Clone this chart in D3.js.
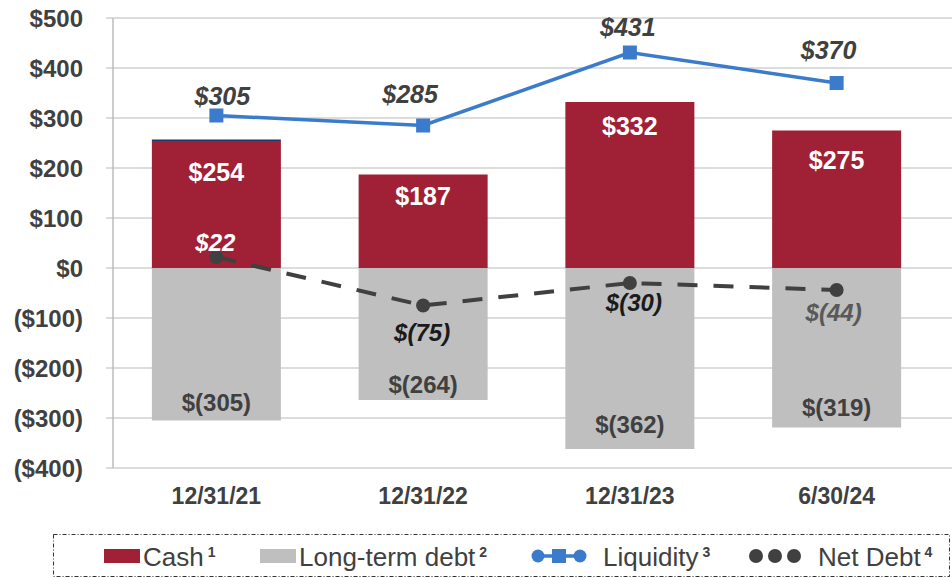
<!DOCTYPE html>
<html>
<head>
<meta charset="utf-8">
<script src="https://cdn.jsdelivr.net/npm/d3@7"></script>
<style>
  body { margin: 0; background: #fff; }
  svg { font-family: "Liberation Sans", Arial, sans-serif; }
</style>
</head>
<body>
<svg id="chart" width="952" height="578"></svg>
<script>
const categories = ['12/31/21', '12/31/22', '12/31/23', '6/30/24'];
const cash = [254, 187, 332, 275];
const other = [3, 0, 0, 0];
const debt = [-305, -264, -362, -319];
const liquidity = [305, 285, 431, 370];
const netDebt = [22, -75, -30, -44];
const netDebtLabels = ['$22', '$(75)', '$(30)', '$(44)'];
const yTicks = [500, 400, 300, 200, 100, 0, -100, -200, -300, -400];

const red = '#a02035';
const grey = '#bfbfbf';
const blue = '#3b7bcc';
const dark = '#404040';

const svg = d3.select('#chart');
const x = d3.scaleBand().domain(categories).range([113, 940]).paddingInner(0.376).paddingOuter(0.188);
const y = d3.scaleLinear().domain([-400, 500]).range([468, 18]);
const cx = d => x(d) + x.bandwidth() / 2;
const money = v => (v < 0 ? `($${-v})` : `$${v}`);

// grid
svg.append('g')
  .selectAll('line')
  .data(yTicks)
  .enter()
  .append('line')
  .attr('x1', 106)
  .attr('x2', 952)
  .attr('y1', d => y(d))
  .attr('y2', d => y(d))
  .attr('stroke', '#d0d0d0')
  .attr('stroke-width', 1.5);

svg.append('line')
  .attr('x1', 113).attr('x2', 113)
  .attr('y1', y(500)).attr('y2', y(-400))
  .attr('stroke', '#bdbdbd').attr('stroke-width', 1.5);

svg.append('g')
  .selectAll('text')
  .data(yTicks)
  .enter()
  .append('text')
  .attr('x', 83)
  .attr('y', d => y(d))
  .attr('dy', '0.36em')
  .attr('text-anchor', 'end')
  .attr('font-size', 24)
  .attr('font-weight', 'bold')
  .attr('fill', dark)
  .text(money);

// bars
const bars = svg.append('g');
bars.selectAll('.cash')
  .data(categories)
  .enter()
  .append('rect')
  .attr('x', d => x(d))
  .attr('width', x.bandwidth())
  .attr('y', (d, i) => y(cash[i]))
  .attr('height', (d, i) => y(0) - y(cash[i]))
  .attr('fill', red);
bars.selectAll('.other')
  .data(categories)
  .enter()
  .append('rect')
  .attr('x', d => x(d))
  .attr('width', x.bandwidth())
  .attr('y', (d, i) => y(cash[i] + other[i]))
  .attr('height', (d, i) => y(cash[i]) - y(cash[i] + other[i]))
  .attr('fill', '#1f3864');
bars.selectAll('.debt')
  .data(categories)
  .enter()
  .append('rect')
  .attr('x', d => x(d))
  .attr('width', x.bandwidth())
  .attr('y', y(0))
  .attr('height', (d, i) => y(debt[i]) - y(0))
  .attr('fill', grey);

const cashOffsets = [31, 21, 24, 29];
bars.selectAll('.cashLbl')
  .data(categories)
  .enter()
  .append('text')
  .attr('x', cx)
  .attr('y', (d, i) => y(cash[i]) + cashOffsets[i])
  .attr('dy', '0.36em')
  .attr('text-anchor', 'middle')
  .attr('font-size', 25)
  .attr('font-weight', 'bold')
  .attr('fill', '#fff')
  .text((d, i) => `$${cash[i]}`);

const debtOffsets = [-18, -16, -25, -20];
bars.selectAll('.debtLbl')
  .data(categories)
  .enter()
  .append('text')
  .attr('x', cx)
  .attr('y', (d, i) => y(debt[i]) + debtOffsets[i])
  .attr('dy', '0.36em')
  .attr('text-anchor', 'middle')
  .attr('font-size', 24)
  .attr('font-weight', 'bold')
  .attr('fill', dark)
  .text((d, i) => `$(${-debt[i]})`);

// net debt line
const netLine = d3.line().x(d => cx(d.c)).y(d => y(d.v));
const netPts = categories.map((c, i) => ({ c, v: netDebt[i] }));
svg.append('path')
  .attr('d', netLine(netPts))
  .attr('fill', 'none')
  .attr('stroke', dark)
  .attr('stroke-width', 4)
  .attr('stroke-dasharray', '20,16');
svg.append('g')
  .selectAll('circle')
  .data(netPts)
  .enter()
  .append('circle')
  .attr('cx', d => cx(d.c))
  .attr('cy', d => y(d.v))
  .attr('r', 7)
  .attr('fill', dark);

const netColors = ['#fff', '#1a1a1a', '#1a1a1a', '#595959'];
const netOffsets = [-15, 27, 19, 22];
const netDx = [-1, -1, 4, -3];
svg.append('g')
  .selectAll('text')
  .data(netPts)
  .enter()
  .append('text')
  .attr('x', (d, i) => cx(d.c) + netDx[i])
  .attr('y', (d, i) => y(d.v) + netOffsets[i])
  .attr('dy', '0.36em')
  .attr('text-anchor', 'middle')
  .attr('font-size', 24)
  .attr('font-weight', 'bold')
  .attr('font-style', 'italic')
  .attr('fill', (d, i) => netColors[i])
  .text((d, i) => netDebtLabels[i]);

// liquidity line
const liqPts = categories.map((c, i) => ({ c, v: liquidity[i] }));
svg.append('path')
  .attr('d', netLine(liqPts))
  .attr('fill', 'none')
  .attr('stroke', blue)
  .attr('stroke-width', 3.5);
svg.append('g')
  .selectAll('rect')
  .data(liqPts)
  .enter()
  .append('rect')
  .attr('x', d => cx(d.c) - 7)
  .attr('y', d => y(d.v) - 7)
  .attr('width', 14)
  .attr('height', 14)
  .attr('fill', blue);

const liqOffsets = [-20, -32, -26, -33];
const liqDx = [6, -13, -2, -8];
svg.append('g')
  .selectAll('text')
  .data(liqPts)
  .enter()
  .append('text')
  .attr('x', (d, i) => cx(d.c) + liqDx[i])
  .attr('y', (d, i) => y(d.v) + liqOffsets[i])
  .attr('dy', '0.36em')
  .attr('text-anchor', 'middle')
  .attr('font-size', 25)
  .attr('font-weight', 'bold')
  .attr('font-style', 'italic')
  .attr('fill', dark)
  .text(d => `$${d.v}`);

// x labels
svg.append('g')
  .selectAll('text')
  .data(categories)
  .enter()
  .append('text')
  .attr('x', cx)
  .attr('y', 496)
  .attr('dy', '0.36em')
  .attr('text-anchor', 'middle')
  .attr('font-size', 23)
  .attr('font-weight', 'bold')
  .attr('fill', dark)
  .text(d => d);

// legend
const lg = svg.append('g');
lg.append('rect')
  .attr('x', 53.5).attr('y', 534.5)
  .attr('width', 896).attr('height', 42)
  .attr('fill', 'none')
  .attr('stroke', '#333')
  .attr('stroke-width', 1)
  .attr('stroke-dasharray', '4,2,1,2');

const legendText = (xPos, label, sup) => {
  const t = lg.append('text')
    .attr('x', xPos).attr('y', 557)
    .attr('dy', '0.36em')
    .attr('font-size', 26)
    .attr('fill', dark)
    .text(label);
  t.append('tspan')
    .attr('dx', 4)
    .attr('dy', -9)
    .attr('font-size', 14)
    .attr('font-weight', 'bold')
    .text(sup);
};

lg.append('rect').attr('x', 104).attr('y', 549).attr('width', 36).attr('height', 14).attr('fill', red);
legendText(143, 'Cash', '1');
lg.append('rect').attr('x', 260).attr('y', 549).attr('width', 36).attr('height', 14).attr('fill', grey);
legendText(299, 'Long-term debt', '2');

lg.append('line').attr('x1', 538).attr('x2', 580).attr('y1', 556).attr('y2', 556)
  .attr('stroke', blue).attr('stroke-width', 3.5);
lg.append('circle').attr('cx', 538).attr('cy', 556).attr('r', 6.5).attr('fill', blue);
lg.append('circle').attr('cx', 580).attr('cy', 556).attr('r', 6.5).attr('fill', blue);
lg.append('rect').attr('x', 552).attr('y', 549).attr('width', 14).attr('height', 14).attr('fill', blue);
legendText(603, 'Liquidity', '3');

[756, 775, 794].forEach((c) => {
  lg.append('circle').attr('cx', c).attr('cy', 556).attr('r', 7).attr('fill', dark);
});
legendText(818, 'Net Debt', '4');
</script>
</body>
</html>
